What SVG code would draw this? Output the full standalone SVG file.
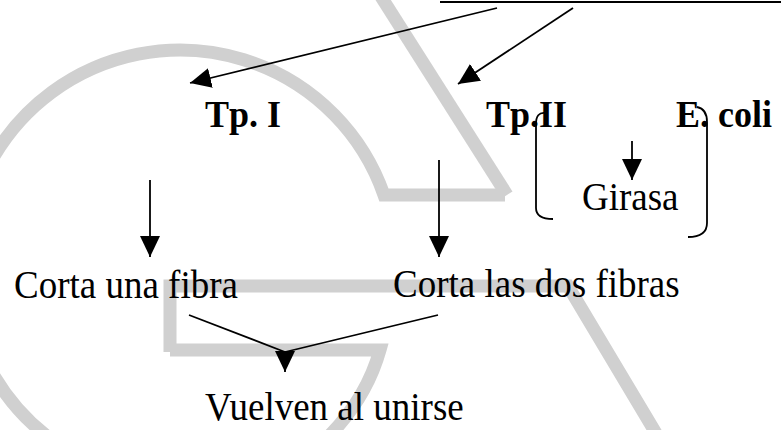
<svg xmlns="http://www.w3.org/2000/svg" width="781" height="430" viewBox="0 0 781 430">
  <style>
    .wm { fill: none; stroke: #d0d0d0; stroke-width: 13; stroke-linejoin: miter; }
    .b { font-family: "Liberation Serif", "Times New Roman", serif; font-weight: bold; font-size: 36px; fill: #000; }
    .r { font-family: "Liberation Serif", "Times New Roman", serif; font-size: 37px; fill: #000; }
    .c { fill: none; stroke: #000; stroke-width: 1.8; }
    .br { fill: none; stroke: #000; stroke-width: 1.8; }
  </style>
  <defs>
    <marker id="ah" viewBox="0 0 21 20" refX="21" refY="10" markerWidth="21" markerHeight="20" markerUnits="userSpaceOnUse" orient="auto">
      <path d="M0,0 L21,10 L0,20 z" fill="#000"/>
    </marker>
  </defs>
  <rect width="781" height="430" fill="#fff"/>

  <g id="watermark">
    <path class="wm" d="M 505 195 L 384 195 A 216 216 0 1 0 52 440"/>
    <path class="wm" d="M 380 -5 L 507 195"/>
    <path class="wm" d="M 170 352 L 170 286 L 568 286 L 660 440"/>
    <path class="wm" d="M 170 350 L 380 350 Q 366 400 325 440"/>
  </g>

  <g id="connectors">
    <line class="c" x1="440" y1="2" x2="781" y2="2" stroke-width="2.5"/>
    <line class="c" x1="497" y1="8" x2="190" y2="83" marker-end="url(#ah)"/>
    <line class="c" x1="573" y1="8" x2="458" y2="84" marker-end="url(#ah)"/>
    <line class="c" x1="150" y1="180" x2="150" y2="257" marker-end="url(#ah)"/>
    <line class="c" x1="439" y1="160" x2="439" y2="257" marker-end="url(#ah)"/>
    <line class="c" x1="632" y1="141" x2="632" y2="180" marker-end="url(#ah)"/>
    <line class="c" x1="189" y1="315" x2="285" y2="352"/>
    <line class="c" x1="438" y1="315" x2="285" y2="352"/>
    <line class="c" x1="285" y1="352" x2="285" y2="372" marker-end="url(#ah)"/>
  </g>

  <g id="brackets">
    <path class="br" d="M 545 113 Q 536 112 536 124 L 536 208 Q 536 219 553 219"/>
    <path class="br" d="M 697 107 Q 707 109 707 122 L 707 223 Q 707 237 688 237"/>
  </g>

  <g id="tp1"><text class="b" transform="translate(205 127) scale(1 1.05)">Tp. I</text></g>
  <g id="tp2"><text class="b" transform="translate(486 127) scale(1 1.05)">Tp.II</text></g>
  <g id="ecoli"><text class="b" transform="translate(676 127) scale(1 1.05)">E. coli</text></g>
  <g id="girasa"><text class="r" transform="translate(582 210) scale(1 1.08)">Girasa</text></g>
  <g id="corta1"><text class="r" transform="translate(14 298) scale(1 1.08)">Corta una fibra</text></g>
  <g id="corta2"><text class="r" transform="translate(393 297) scale(1 1.08)">Corta las dos fibras</text></g>
  <g id="vuelven"><text class="r" transform="translate(205 420) scale(1 1.08)">Vuelven al unirse</text></g>
</svg>
